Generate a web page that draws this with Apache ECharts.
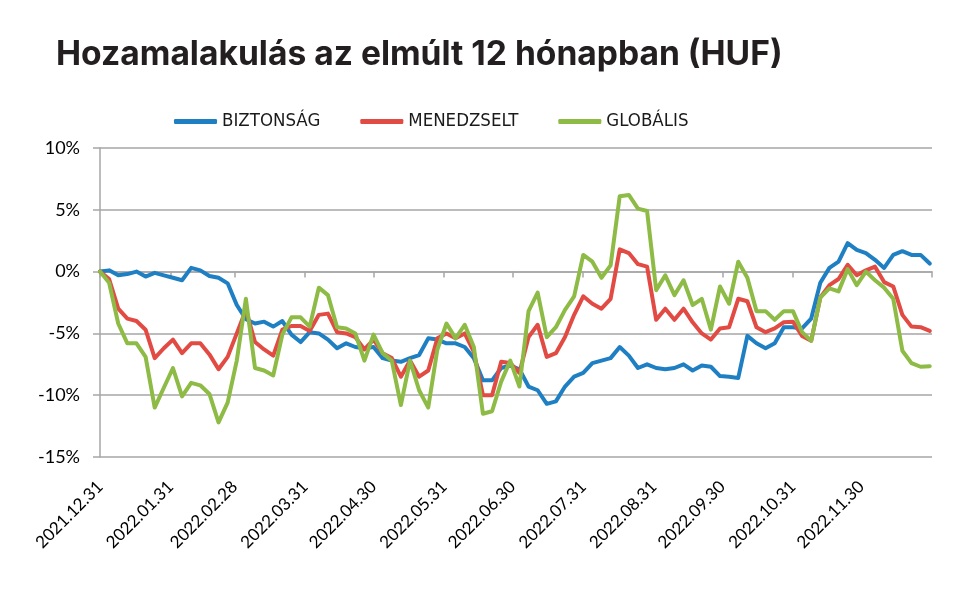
<!DOCTYPE html>
<html><head><meta charset="utf-8">
<script src="https://cdn.jsdelivr.net/npm/echarts@6/dist/echarts.min.js"></script>
<style>html,body{margin:0;padding:0;background:#fff}#c{width:980px;height:603px}</style>
</head><body><div id="c"></div>
<script>
const titleText = 'Hozamalakulás az elmúlt 12 hónapban (HUF)';
const seriesNames = ['BIZTONSÁG', 'MENEDZSELT', 'GLOBÁLIS'];
const startDate = '2021.12.31';
const endDate = '2022.12.31';
const stepDays = 4; // one sample every 4 calendar days
const tickDates = ['2021.12.31','2022.01.31','2022.02.28','2022.03.31','2022.04.30','2022.05.31',
  '2022.06.30','2022.07.31','2022.08.31','2022.09.30','2022.10.31','2022.11.30','2022.12.31'];
const labelDates = tickDates.slice(0, 12);
const yMin = -15, yMax = 10, yStep = 5;

const biztonsag = [
  0, 0.1, -0.3, -0.2, 0, -0.4, -0.1, -0.3, -0.5, -0.7,
  0.3, 0.1, -0.35, -0.5, -0.95, -2.7, -3.85, -4.2, -4.05, -4.45,
  -4.0, -5.1, -5.7, -4.9, -5.0, -5.5, -6.2, -5.8, -6.1, -6.2,
  -6.1, -7.0, -7.2, -7.3, -7.0, -6.75, -5.4, -5.5, -5.8, -5.8,
  -6.1, -7.0, -8.8, -8.8, -7.8, -7.6, -7.9, -9.3, -9.6, -10.7,
  -10.5, -9.3, -8.5, -8.2, -7.4, -7.2, -7.0, -6.1, -6.8, -7.8,
  -7.5, -7.8, -7.9, -7.8, -7.5, -8.0, -7.6, -7.7, -8.45, -8.5,
  -8.6, -5.2, -5.8, -6.2, -5.8, -4.5, -4.5, -4.6, -3.8, -0.9,
  0.3, 0.8, 2.3, 1.75, 1.5, 0.95, 0.3, 1.35, 1.65, 1.35,
  1.35, 0.65
];
const menedzselt = [
  0, -0.6, -3.0, -3.8, -4.0, -4.7, -7.0, -6.2, -5.5, -6.6,
  -5.8, -5.8, -6.7, -7.9, -6.9, -5.0, -3.1, -5.7, -6.3, -6.8,
  -4.7, -4.4, -4.4, -4.8, -3.5, -3.4, -4.9, -5.0, -5.3, -6.3,
  -5.5, -6.6, -7.0, -8.5, -7.2, -8.5, -8.0, -5.4, -5.0, -5.4,
  -5.0, -6.5, -10.0, -10.0, -7.3, -7.4, -8.2, -5.3, -4.3, -6.9,
  -6.6, -5.3, -3.5, -2.0, -2.6, -3.0, -2.2, 1.8, 1.5, 0.6,
  0.4, -3.9, -3.0, -3.9, -3.0, -4.1, -5.0, -5.5, -4.6, -4.5,
  -2.2, -2.4, -4.5, -4.9, -4.6, -4.1, -4.05, -5.2, -5.6, -2.1,
  -1.1, -0.6, 0.55, -0.3, 0.1, 0.4, -0.85, -1.2, -3.5, -4.45,
  -4.5, -4.8
];
const globalis = [
  0, -0.9, -4.2, -5.8, -5.8, -6.9, -11.0, -9.4, -7.8, -10.1,
  -9.0, -9.2, -9.9, -12.2, -10.6, -7.2, -2.2, -7.8, -8.0, -8.4,
  -5.1, -3.7, -3.7, -4.45, -1.3, -1.9, -4.5, -4.6, -5.0, -7.2,
  -5.1, -6.6, -7.2, -10.8, -7.2, -9.6, -11.0, -6.3, -4.2, -5.4,
  -4.3, -6.1, -11.5, -11.3, -8.9, -7.2, -9.3, -3.2, -1.7, -5.3,
  -4.5, -3.1, -2.0, 1.35, 0.8, -0.5, 0.5, 6.1, 6.2, 5.1,
  4.9, -1.5, -0.3, -1.9, -0.7, -2.7, -2.2, -4.7, -1.2, -2.6,
  0.8, -0.5, -3.2, -3.2, -3.9, -3.2, -3.2, -4.9, -5.6, -2.1,
  -1.35, -1.6, 0.2, -1.1, 0, -0.7, -1.3, -2.2, -6.4, -7.4,
  -7.7, -7.65
];
const colors = ['#1f7fc3', '#e14b43', '#8dbb45'];

function parseD(s) { const p = s.split('.').map(Number); return Date.UTC(p[0], p[1] - 1, p[2]); }
const t0 = parseD(startDate);
function toDay(s) { return Math.round((parseD(s) - t0) / 864e5); }
function pad(n) { return (n < 10 ? '0' : '') + n; }
function fromDay(n) {
  const t = new Date(t0 + n * 864e5);
  return t.getUTCFullYear() + '.' + pad(t.getUTCMonth() + 1) + '.' + pad(t.getUTCDate());
}
const dates = biztonsag.map((_, i) => fromDay(i * stepDays));
const toSeries = arr => dates.map((d, i) => [toDay(d), arr[i]]);

const gridColor = '#a6a6a6';
const chart = echarts.init(document.getElementById('c'), null, { renderer: 'canvas' });
chart.setOption({
  animation: false,
  backgroundColor: '#fff',
  title: {
    text: titleText, left: 51, top: 33,
    textStyle: { fontFamily: 'Inter', fontWeight: 700, fontSize: 33.6, color: '#231f20' }
  },
  legend: {
    data: seriesNames, left: 169, top: 107, icon: 'roundRect',
    itemWidth: 43, itemHeight: 5, itemGap: 40,
    textStyle: { fontFamily: "'Liberation Sans Narrow','DejaVu Sans Condensed',sans-serif", fontSize: 18.5, color: '#1a1a1a', padding: [0, 0, 0, 0] }
  },
  grid: { left: 100, right: 48, top: 148, bottom: 146, containLabel: false },
  xAxis: [
    {
      type: 'value', min: 0, max: toDay(endDate),
      axisLine: { show: true, onZero: true, lineStyle: { color: gridColor, width: 1.5 } },
      axisTick: { show: true, length: 6, customValues: tickDates.map(toDay), lineStyle: { color: gridColor, width: 1.5 } },
      axisLabel: { show: false },
      splitLine: { show: false }
    },
    {
      type: 'value', min: 0, max: toDay(endDate), position: 'bottom',
      axisLine: { show: false, onZero: false },
      axisTick: { show: false },
      axisLabel: {
        show: true, customValues: labelDates.map(toDay), rotate: 45, margin: 27,
        formatter: v => fromDay(v),
        fontFamily: 'Lato', fontSize: 17, color: '#000'
      },
      splitLine: { show: false }
    }
  ],
  yAxis: {
    type: 'value', min: yMin, max: yMax, interval: yStep,
    axisLine: { show: true, lineStyle: { color: gridColor, width: 1.5 } },
    axisTick: { show: true, length: 7, lineStyle: { color: gridColor, width: 1.5 } },
    axisLabel: { formatter: '{value}%', margin: 20, fontFamily: 'Lato', fontSize: 18, color: '#000' },
    splitLine: { show: true, lineStyle: { color: gridColor, width: 1.5 } }
  },
  series: [biztonsag, menedzselt, globalis].map((arr, k) => ({
    name: seriesNames[k], type: 'line', xAxisIndex: 0, data: toSeries(arr),
    symbol: 'none', smooth: false, color: colors[k],
    lineStyle: { width: 4, color: colors[k], join: 'round', cap: 'round' }
  }))
});
</script></body></html>
